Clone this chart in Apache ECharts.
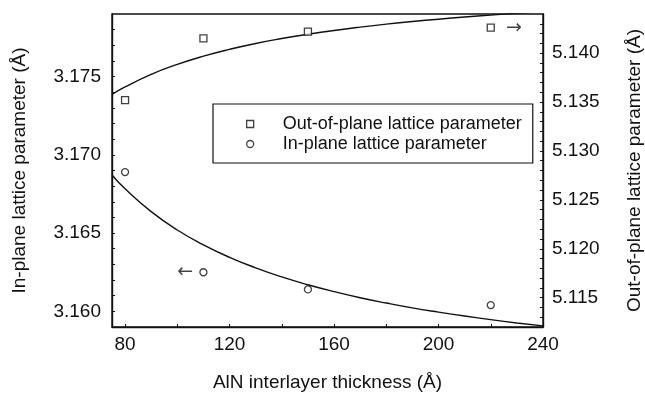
<!DOCTYPE html>
<html>
<head>
<meta charset="utf-8">
<script src="https://cdn.jsdelivr.net/npm/echarts@6/dist/echarts.min.js"></script>
<style>html,body{margin:0;padding:0;background:#fff}#c{width:645px;height:393px}</style>
</head>
<body>
<div id="c"></div>
<script>
// Measured points
const thickness = [80, 110, 150, 220];
const outOfPlane = [5.1352, 5.1415, 5.1422, 5.1426];
const inPlane = [3.1689, 3.1625, 3.1614, 3.1604];
// Fitted curves
const fitX = [75, 80, 90, 100, 110, 120, 130, 140, 150, 160, 170, 180, 190, 200, 210, 220, 230, 240];
const fitOut = [5.13577, 5.13654, 5.13783, 5.13885, 5.13969, 5.14039, 5.14099, 5.14149, 5.14193, 5.14232, 5.14266, 5.14296, 5.14323, 5.14347, 5.14369, 5.14389, 5.14407, 5.14424];
const fitIn = [3.16871, 3.16783, 3.16637, 3.16520, 3.16425, 3.16345, 3.16278, 3.16220, 3.16170, 3.16126, 3.16087, 3.16053, 3.16022, 3.15995, 3.15970, 3.15947, 3.15926, 3.15907];
// Axis ticks
const xLabels = [80, 120, 160, 200, 240];
const xTicks = [80, 100, 120, 140, 160, 180, 200, 220, 240];
const leftLabels = [3.160, 3.165, 3.170, 3.175];
const leftTicks = [3.159,3.160,3.161,3.162,3.163,3.164,3.165,3.166,3.167,3.168,3.169,3.170,3.171,3.172,3.173,3.174,3.175,3.176,3.177,3.178];
const rightLabels = [5.115, 5.120, 5.125, 5.130, 5.135, 5.140];
const rightTicks = [5.113,5.114,5.115,5.116,5.117,5.118,5.119,5.120,5.121,5.122,5.123,5.124,5.125,5.126,5.127,5.128,5.129,5.130,5.131,5.132,5.133,5.134,5.135,5.136,5.137,5.138,5.139,5.140,5.141,5.142,5.143];

const FONT = '"Liberation Sans", Arial, Helvetica, sans-serif';
const INK = '#111';

const chart = echarts.init(document.getElementById('c'), null, {renderer: 'canvas'});

const outData = thickness.map((x, i) => {
  const d = {value: [x, outOfPlane[i]]};
  if (i === thickness.length - 1) d.label = {show: true, position: 'right', distance: 11, formatter: '\u2192', fontSize: 19, color: INK, fontFamily: '"DejaVu Sans", sans-serif'};
  return d;
});
const inData = thickness.map((x, i) => {
  const d = {value: [x, inPlane[i]]};
  if (i === 1) d.label = {show: true, position: 'left', distance: 6, formatter: '\u2190', fontSize: 19, color: INK, fontFamily: '"DejaVu Sans", sans-serif'};
  return d;
});

const tickCommon = {inside: true, length: 3, lineStyle: {color: INK, width: 1}};
chart.setOption({
  animation: false,
  backgroundColor: '#fff',
  grid: {left: 112, right: 102, top: 14, bottom: 66, outerBoundsMode: 'none', containLabel: false, show: true, borderColor: INK, borderWidth: 1.4, backgroundColor: 'transparent'},
  xAxis: {
    type: 'value', min: 75, max: 240,
    name: 'AlN interlayer thickness (\u00c5)', nameLocation: 'middle', nameGap: 46,
    nameTextStyle: {fontSize: 19, color: INK, fontFamily: FONT},
    axisLine: {show: true, lineStyle: {color: INK, width: 1.4}},
    axisTick: Object.assign({customValues: xTicks}, tickCommon),
    axisLabel: {customValues: xLabels, fontSize: 19, color: INK, fontFamily: FONT, margin: 8},
    splitLine: {show: false}
  },
  yAxis: [{
    type: 'value', min: 3.159, max: 3.179, position: 'left',
    name: 'In-plane lattice parameter (\u00c5)', nameLocation: 'middle', nameGap: 83, nameRotate: 90,
    nameTextStyle: {fontSize: 19, color: INK, fontFamily: FONT},
    axisLine: {show: true, lineStyle: {color: INK, width: 1.4}},
    axisTick: Object.assign({customValues: leftTicks}, tickCommon),
    axisLabel: {customValues: leftLabels, fontSize: 19, color: INK, fontFamily: FONT, margin: 11, formatter: v => v.toFixed(3)},
    splitLine: {show: false}
  }, {
    type: 'value', min: 5.112, max: 5.144, position: 'right',
    name: 'Out-of-plane lattice parameter (\u00c5)', nameLocation: 'middle', nameGap: 82, nameRotate: 90,
    nameTextStyle: {fontSize: 19, color: INK, fontFamily: FONT},
    axisLine: {show: true, lineStyle: {color: INK, width: 1.4}},
    axisTick: Object.assign({customValues: rightTicks}, tickCommon),
    axisLabel: {customValues: rightLabels, fontSize: 19, color: INK, fontFamily: FONT, margin: 9, formatter: v => v.toFixed(3)},
    splitLine: {show: false}
  }],
  legend: {
    orient: 'vertical', left: 213, top: 104,
    padding: [10, 11, 9, 33], itemGap: 0,
    borderColor: INK, borderWidth: 1.2, backgroundColor: '#fff',
    itemWidth: 7, itemHeight: 7,
    textStyle: {fontSize: 18, color: INK, fontFamily: FONT, lineHeight: 20, padding: [0, 0, 0, 24]},
    data: [
      {name: 'Out-of-plane lattice parameter', icon: 'rect', itemStyle: {color: '#fff', borderColor: INK, borderWidth: 1.3}},
      {name: 'In-plane lattice parameter', icon: 'circle', itemStyle: {color: '#fff', borderColor: INK, borderWidth: 1.3}}
    ]
  },
  series: [
    {name: 'fit-out', type: 'line', yAxisIndex: 1, data: fitX.map((x, i) => [x, fitOut[i]]), smooth: true, showSymbol: false, clip: true, lineStyle: {color: INK, width: 1.4}, z: 2},
    {name: 'fit-in', type: 'line', yAxisIndex: 0, data: fitX.map((x, i) => [x, fitIn[i]]), smooth: true, showSymbol: false, clip: true, lineStyle: {color: INK, width: 1.4}, z: 2},
    {name: 'Out-of-plane lattice parameter', type: 'scatter', yAxisIndex: 1, symbol: 'rect', symbolSize: 7, data: outData, itemStyle: {color: '#fff', borderColor: INK, borderWidth: 1.3}, z: 5},
    {name: 'In-plane lattice parameter', type: 'scatter', yAxisIndex: 0, symbol: 'circle', symbolSize: 7, data: inData, itemStyle: {color: '#fff', borderColor: INK, borderWidth: 1.3}, z: 5}
  ]
});
</script>
</body>
</html>
